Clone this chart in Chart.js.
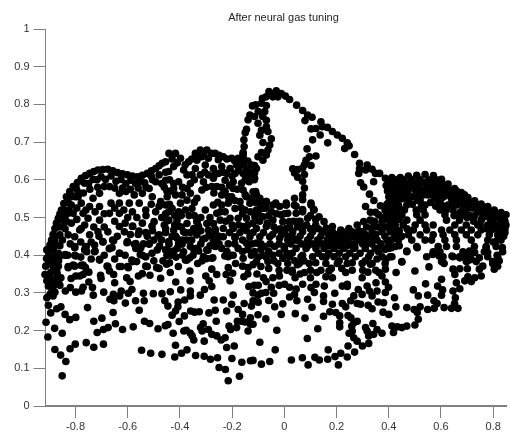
<!DOCTYPE html>
<html>
<head>
<meta charset="utf-8">
<title>After neural gas tuning</title>
<script src="https://cdn.jsdelivr.net/npm/chart.js@4"></script>
<style>
  html, body { margin: 0; padding: 0; background: #fff; }
  canvas { display: block; }
</style>
</head>
<body>
<canvas id="gas-canvas" width="510" height="432"></canvas>
<script>
var chartTitle = 'After neural gas tuning';
var xTickValues = [-0.8, -0.6, -0.4, -0.2, 0, 0.2, 0.4, 0.6, 0.8];
var yTickValues = [0, 0.1, 0.2, 0.3, 0.4, 0.5, 0.6, 0.7, 0.8, 0.9, 1];

// values, grouped by region
var lowerLeft = [[-.851,.080],[-.837,.118],[-.857,.135],[-.879,.150],[-.821,.152],[-.801,.164],[-.759,.168],[-.730,.156],[-.693,.164],[-.906,.183],[-.913,.222],[-.880,.206],[-.851,.193],[-.717,.195],[-.693,.203],[-.675,.208],[-.647,.218],[-.620,.203],[-.579,.210],[-.730,.225],[-.699,.233],[-.799,.235],[-.822,.229],[-.840,.243],[-.895,.247],[-.872,.258],[-.856,.263],[-.754,.261],[-.656,.248],[-.904,.267],[-.547,.148],[-.512,.140],[-.469,.137],[-.420,.130],[-.394,.140],[-.373,.149],[-.417,.161],[-.340,.134],[-.307,.132],[-.283,.124],[-.256,.128],[-.307,.172],[-.250,.102],[-.226,.097],[-.215,.067],[-.172,.079],[-.163,.116],[-.130,.120],[-.201,.126],[-.221,.155],[-.192,.159],[-.536,.225],[-.516,.219],[-.484,.205],[-.456,.213],[-.446,.216],[-.426,.193],[-.403,.224],[-.430,.241],[-.417,.252],[-.408,.263],[-.383,.239],[-.385,.199],[-.376,.201],[-.360,.193],[-.353,.186],[-.347,.175],[-.359,.252],[-.344,.249],[-.326,.250],[-.289,.247],[-.265,.254],[-.261,.225],[-.321,.208],[-.311,.218],[-.315,.199],[-.291,.203],[-.278,.190],[-.259,.186],[-.242,.175],[-.227,.181],[-.212,.212],[-.206,.203],[-.183,.208],[-.180,.225],[-.164,.225],[-.151,.223],[-.139,.199],[-.130,.217],[-.130,.234],[-.160,.243],[-.177,.256],[-.202,.270],[-.221,.252],[-.234,.281],[-.196,.294],[-.154,.272],[-.126,.265],[-.269,.281],[-.322,.294],[-.306,.309],[-.360,.292],[-.360,.305],[-.361,.332],[-.362,.358],[-.397,.308],[-.382,.281],[-.407,.276],[-.416,.329],[-.437,.303],[-.469,.298],[-.446,.265],[-.458,.279],[-.502,.298],[-.540,.299],[-.537,.279],[-.570,.279],[-.556,.254],[-.609,.273],[-.653,.279],[-.631,.292],[-.668,.283],[-.655,.296],[-.625,.305],[-.598,.299],[-.584,.309],[-.650,.327],[-.692,.302],[-.732,.294],[-.735,.314],[-.749,.329],[-.771,.315],[-.777,.305],[-.799,.302],[-.820,.314],[-.839,.305],[-.817,.338],[-.784,.345],[-.799,.345],[-.771,.349],[-.749,.355],[-.828,.367],[-.803,.371],[-.778,.373],[-.762,.367],[-.708,.389],[-.704,.347],[-.702,.338],[-.679,.371],[-.670,.358],[-.654,.349],[-.625,.370],[-.598,.367],[-.604,.340],[-.591,.330],[-.559,.345],[-.544,.351],[-.515,.347],[-.531,.371],[-.489,.367],[-.474,.339],[-.451,.376],[-.437,.354],[-.406,.370],[-.379,.387],[-.362,.393],[-.332,.378],[-.315,.385],[-.297,.391],[-.274,.393],[-.278,.363],[-.259,.349],[-.301,.345],[-.288,.332],[-.278,.317]];

var farLeft = [[-.914,.371],[-.895,.376],[-.917,.349],[-.895,.354],[-.872,.358],[-.910,.332],[-.892,.336],[-.872,.340],[-.856,.340],[-.904,.318],[-.885,.318],[-.879,.302],[-.898,.296],[-.910,.287],[-.886,.292],[-.866,.371],[-.904,.411],[-.879,.402],[-.892,.393],[-.860,.398],[-.840,.402],[-.911,.391],[-.803,.420],[-.799,.398],[-.762,.420],[-.757,.409],[-.725,.411],[-.695,.435],[-.670,.417],[-.654,.438],[-.631,.405],[-.603,.433],[-.575,.429],[-.584,.387],[-.566,.383],[-.552,.402],[-.532,.396],[-.507,.405],[-.518,.429],[-.478,.424],[-.484,.451],[-.442,.429],[-.437,.402],[-.424,.411],[-.392,.429],[-.347,.416],[-.328,.411],[-.293,.413],[-.265,.424],[-.228,.398],[-.206,.400],[-.189,.446],[-.187,.378],[-.215,.367],[-.223,.349],[-.198,.352],[-.208,.332],[-.155,.343],[-.136,.317],[-.160,.371],[-.139,.367],[-.312,.442],[-.288,.455],[-.259,.442],[-.265,.469],[-.329,.477],[-.379,.460],[-.417,.451],[-.455,.460],[-.405,.477],[-.531,.460],[-.581,.477],[-.557,.464],[-.507,.477],[-.335,.491],[-.449,.491],[-.89,.42],[-.90,.38],[-.88,.38],[-.87,.35],[-.865,.33],[-.86,.32],[-.885,.36],[-.90,.345],[-.89,.31],[-.875,.325],[-.865,.385]];

var leftArch = [[-.904,.414],[-.892,.440],[-.879,.471],[-.866,.498],[-.854,.520],[-.835,.555],[-.809,.582],[-.778,.604],[-.746,.617],[-.714,.626],[-.676,.628],[-.639,.619],[-.601,.613],[-.563,.608],[-.525,.617],[-.493,.630],[-.468,.644],[-.822,.564],[-.797,.577],[-.765,.591],[-.733,.601],[-.702,.608],[-.664,.610],[-.626,.601],[-.588,.599],[-.550,.595],[-.816,.533],[-.778,.538],[-.733,.551],[-.708,.564],[-.670,.582],[-.632,.564],[-.607,.569],[-.575,.560],[-.544,.564],[-.518,.577],[-.493,.595],[-.480,.613],[-.809,.511],[-.771,.511],[-.746,.529],[-.708,.529],[-.664,.538],[-.632,.538],[-.594,.538],[-.556,.538],[-.506,.555],[-.474,.542],[-.816,.485],[-.778,.471],[-.752,.498],[-.708,.493],[-.670,.511],[-.632,.511],[-.582,.515],[-.531,.520],[-.493,.515],[-.828,.454],[-.803,.449],[-.784,.467],[-.746,.454],[-.714,.462],[-.676,.462],[-.632,.476],[-.582,.476],[-.544,.485],[-.499,.489],[-.803,.423],[-.759,.423],[-.727,.427],[-.695,.436],[-.658,.440],[-.613,.462],[-.601,.436],[-.569,.431],[-.518,.431],[-.480,.454],[-.803,.400],[-.765,.414],[-.727,.409],[-.670,.418],[-.632,.405],[-.569,.418],[-.544,.400],[-.531,.396],[-.487,.414],[-.841,.400],[-.866,.405],[-.885,.418],[-.879,.396],[-.904,.396],[-.910,.414],[-.708,.387],[-.676,.370],[-.582,.383],[-.525,.370],[-.480,.365],[-.809,.374],[-.828,.370],[-.771,.374],[-.632,.370],[-.601,.370],[-.841,.502],[-.847,.476],[-.860,.454],[-.879,.436],[-.828,.511],[-.790,.555]];

var archFill = [[-.898,.427],[-.886,.455],[-.873,.485],[-.860,.509],[-.845,.537],[-.822,.569],[-.793,.593],[-.762,.611],[-.730,.622],[-.695,.627],[-.657,.624],[-.620,.616],[-.582,.610],[-.544,.612],[-.509,.624],[-.480,.637],[-.842,.520],[-.828,.540],[-.812,.556],[-.790,.567],[-.750,.590],[-.718,.600],[-.685,.601],[-.645,.596],[-.607,.590],[-.570,.590],[-.535,.592],[-.855,.495],[-.862,.475],[-.875,.450],[-.885,.430],[-.835,.490],[-.840,.470],[-.850,.440],[-.860,.425],[-.800,.555],[-.770,.565],[-.745,.575],[-.715,.580],[-.690,.582],[-.650,.578],[-.620,.578],[-.590,.575],[-.560,.578],[-.530,.580],[-.505,.600],[-.510,.610],[-.825,.520],[-.795,.525],[-.760,.520],[-.725,.515],[-.690,.510],[-.650,.525],[-.615,.520],[-.600,.500],[-.565,.500],[-.530,.505],[-.510,.535],[-.480,.530],[-.470,.500],[-.795,.495],[-.765,.480],[-.730,.475],[-.690,.475],[-.650,.490],[-.610,.485],[-.560,.455],[-.525,.450],[-.500,.440],[-.470,.440],[-.460,.480],[-.455,.510],[-.450,.570],[-.470,.590],[-.455,.620],[-.820,.430],[-.780,.435],[-.740,.435],[-.710,.450],[-.660,.420],[-.640,.450],[-.590,.455],[-.540,.430],[-.505,.465],[-.830,.400],[-.780,.395],[-.740,.390],[-.690,.400],[-.650,.390],[-.610,.400],[-.550,.420],[-.500,.385],[-.465,.385],[-.450,.400],[-.440,.380],[-.415,.395],[-.390,.400],[-.350,.400]];

var centreBand = [[-.442,.670],[-.417,.670],[-.398,.657],[-.367,.648],[-.341,.670],[-.322,.679],[-.297,.679],[-.265,.670],[-.234,.661],[-.202,.657],[-.177,.657],[-.158,.670],[-.107,.630],[-.126,.639],[-.145,.630],[-.120,.613],[-.335,.652],[-.316,.661],[-.291,.657],[-.253,.653],[-.341,.630],[-.303,.639],[-.272,.630],[-.240,.635],[-.208,.630],[-.183,.639],[-.158,.639],[-.354,.613],[-.322,.613],[-.291,.613],[-.253,.617],[-.221,.617],[-.189,.617],[-.158,.617],[-.139,.613],[-.455,.648],[-.424,.635],[-.443,.622],[-.386,.626],[-.373,.613],[-.455,.599],[-.424,.590],[-.424,.577],[-.417,.560],[-.310,.595],[-.272,.604],[-.278,.582],[-.316,.573],[-.373,.577],[-.392,.560],[-.360,.564],[-.335,.551],[-.373,.546],[-.259,.582],[-.227,.599],[-.196,.595],[-.164,.591],[-.196,.577],[-.158,.573],[-.240,.560],[-.202,.555],[-.227,.569],[-.120,.568],[-.107,.560],[-.145,.555],[-.170,.542],[-.132,.538],[-.094,.546],[-.069,.542],[-.044,.533],[-.018,.529],[.007,.533],[-.082,.524],[-.107,.520],[-.050,.515],[-.012,.507],[-.151,.520],[-.189,.524],[-.215,.538],[-.240,.533],[-.272,.533],[-.303,.520],[-.398,.538],[-.430,.524],[-.405,.515],[-.379,.520],[-.354,.524],[-.443,.515],[-.455,.533],[-.449,.555],[-.259,.511],[-.227,.515],[-.208,.498],[-.177,.498],[-.145,.498],[-.113,.502],[-.082,.502],[-.044,.493],[-.006,.489],[-.335,.489],[-.373,.484],[-.411,.493],[-.443,.493],[-.297,.484],[-.272,.484],[-.246,.493],[-.234,.471],[-.291,.467],[-.265,.462],[-.196,.471],[-.158,.476],[-.107,.471],[-.069,.476],[-.031,.467],[.007,.471],[-.347,.471],[-.386,.462],[-.424,.467],[-.455,.471],[-.335,.454],[-.373,.440],[-.411,.445],[-.443,.436],[-.303,.445],[-.272,.436],[-.234,.449],[-.189,.449],[-.132,.449],[-.094,.449],[-.056,.449],[-.018,.445],[-.145,.432],[-.107,.432],[-.075,.423],[-.037,.423],[0,.423],[-.177,.418],[-.215,.396],[-.196,.400],[-.240,.418],[-.265,.423],[-.297,.414],[-.335,.418],[-.360,.423],[-.405,.431],[-.436,.409],[-.411,.418],[-.386,.409],[-.455,.414],[-.373,.387],[-.436,.400],[-.310,.396],[-.278,.392],[-.082,.400],[-.044,.400],[-.006,.392],[-.126,.400],[-.158,.392],[-.107,.383],[-.063,.383],[-.025,.378]];

var centreFill = [[-.43,.655],[-.41,.645],[-.38,.64],[-.355,.655],[-.33,.665],[-.31,.67],[-.28,.67],[-.25,.665],[-.22,.655],[-.19,.65],[-.165,.65],[-.14,.65],[-.13,.62],[-.115,.60],[-.135,.595],[-.15,.60],[-.175,.625],[-.20,.61],[-.235,.62],[-.265,.615],[-.305,.62],[-.345,.60],[-.36,.59],[-.30,.58],[-.27,.565],[-.24,.58],[-.21,.585],[-.18,.575],[-.15,.56],[-.125,.55],[-.11,.54],[-.09,.53],[-.07,.525],[-.165,.525],[-.19,.545],[-.215,.555],[-.255,.54],[-.345,.54],[-.39,.58],[-.405,.595],[-.44,.60],[-.46,.58],[-.435,.57],[-.44,.535],[-.42,.505],[-.395,.505],[-.365,.505],[-.345,.505],[-.32,.50],[-.285,.50],[-.245,.515],[-.225,.49],[-.20,.48],[-.175,.48],[-.14,.48],[-.12,.485],[-.095,.49],[-.065,.485],[-.04,.475],[-.015,.47],[-.42,.48],[-.395,.475],[-.36,.46],[-.32,.465],[-.28,.45],[-.25,.45],[-.21,.46],[-.17,.46],[-.145,.465],[-.12,.46],[-.08,.46],[-.045,.455],[-.01,.455],[-.43,.45],[-.39,.44],[-.355,.44],[-.32,.43],[-.285,.425],[-.25,.43],[-.215,.43],[-.19,.43],[-.16,.44],[-.125,.43],[-.09,.43],[-.055,.43],[-.02,.43],[-.22,.41],[-.16,.41],[-.14,.415],[-.115,.41],[-.09,.415],[-.06,.41],[-.02,.405],[.01,.405],[-.10,.395],[-.07,.395],[-.04,.385],[-.12,.375],[-.09,.37],[-.06,.365],[-.02,.36],[.01,.36],[-.14,.35],[-.105,.35],[-.08,.34],[-.115,.32],[-.10,.32],[-.12,.30],[-.10,.275],[-.06,.28],[-.05,.315],[-.02,.32],[.02,.315],[.045,.31],[.06,.35],[.03,.36],[.10,.34],[.10,.36]];

var spire = [[-.155,.706],[-.154,.688],[-.158,.672],[-.158,.661],[-.145,.734],[-.150,.725],[-.139,.759],[-.132,.772],[-.122,.796],[-.059,.834],[-.031,.836],[-.012,.829],[.004,.822],[.020,.813],[.047,.798],[.070,.784],[.089,.772],[.106,.766],[.079,.757],[.102,.735],[.121,.736],[.140,.754],[.146,.741],[.165,.739],[.184,.728],[.203,.719],[.222,.710],[.241,.698],[.248,.690],[.231,.683],[.269,.667],[.137,.719],[.108,.706],[.166,.698],[.087,.682],[.121,.663],[.096,.661],[.083,.652],[.102,.638],[.077,.640],[.070,.631],[.051,.627],[.032,.629],[.039,.618],[.051,.607],[.077,.614],[.070,.596],[.077,.578],[.070,.560],[.070,.547],[.039,.551],[.102,.538],[.112,.522],[.070,.521],[.045,.530],[.007,.538],[-.033,.538],[-.069,.542],[-.094,.551],[-.110,.569],[-.084,.816],[-.070,.820],[-.088,.803],[-.110,.799],[-.069,.797],[-.100,.781],[-.075,.781],[-.114,.768],[-.083,.768],[-.069,.758],[-.101,.750],[-.069,.741],[-.088,.731],[-.063,.728],[-.094,.718],[-.050,.709],[-.082,.699],[-.056,.692],[-.063,.679],[-.088,.672],[-.069,.666],[-.101,.661],[-.082,.652],[-.114,.638],[-.114,.618],[-.114,.604],[-.044,.820],[-.025,.820],[-.040,.829],[.288,.644],[.288,.630],[.285,.617],[.317,.639],[.311,.626],[.336,.628],[.349,.617],[.365,.617],[.292,.592],[.304,.581],[.342,.595],[.326,.562],[.343,.545],[.311,.529],[.330,.514],[.349,.514],[.368,.531],[.393,.535],[.406,.517]];

var centreRight = [[.007,.533],[.038,.533],[.013,.511],[.045,.511],[.070,.515],[.102,.533],[.114,.520],[.133,.502],[.089,.498],[.051,.489],[.019,.489],[.152,.489],[.184,.476],[.216,.467],[.247,.471],[.279,.480],[.304,.489],[.329,.493],[.361,.507],[.386,.520],[.412,.529],[.399,.493],[.374,.489],[.412,.480],[.431,.502],[.424,.462],[0,.462],[.032,.462],[.070,.462],[.108,.462],[.146,.462],[.184,.462],[.222,.462],[.260,.462],[.298,.462],[.336,.462],[.374,.462],[.405,.462],[.013,.440],[.045,.440],[.089,.440],[.127,.440],[.165,.440],[.203,.440],[.241,.440],[.279,.440],[.317,.440],[.355,.440],[.393,.440],[0,.418],[.045,.418],[.083,.418],[.121,.418],[.152,.418],[.190,.418],[.228,.418],[.266,.418],[.310,.418],[.348,.418],[.399,.418],[.019,.396],[.064,.396],[.108,.396],[.146,.396],[.190,.396],[.235,.396],[.272,.396],[.323,.396],[.374,.396],[.405,.396],[.013,.378],[.057,.378],[.095,.378],[.159,.378],[.203,.378],[.241,.378],[.298,.378],[.336,.378],[.386,.378],[.02,.475],[.05,.475],[.085,.48],[.12,.48],[.16,.472],[.20,.455],[.23,.45],[.26,.45],[.295,.45],[.33,.45],[.36,.475],[.39,.475],[.015,.45],[.06,.45],[.10,.45],[.14,.45],[.18,.45],[.22,.452],[.27,.43],[.30,.43],[.335,.43],[.37,.43],[.41,.44],[.025,.43],[.065,.43],[.105,.43],[.145,.43],[.185,.43],[.22,.43],[.255,.43],[.03,.405],[.07,.40],[.13,.405],[.17,.405],[.21,.405],[.25,.405],[.29,.405],[.33,.405],[.36,.41],[.385,.415],[.41,.42],[.16,.395],[.21,.385],[.26,.38],[.31,.385],[.355,.39],[.39,.39],[.04,.385],[.075,.385],[.12,.38],[.18,.365],[.22,.365],[.26,.36],[.30,.36],[.32,.355],[.35,.36],[.14,.36],[.03,.355],[.05,.375]];

var rightDome = [[.387,.604],[.412,.606],[.444,.606],[.475,.610],[.507,.612],[.539,.614],[.571,.611],[.602,.601],[.627,.589],[.652,.577],[.678,.566],[.703,.553],[.729,.544],[.754,.536],[.779,.529],[.804,.520],[.830,.513],[.849,.507],[.425,.600],[.456,.600],[.488,.600],[.520,.600],[.551,.600],[.583,.600],[.615,.583],[.418,.586],[.450,.586],[.482,.586],[.513,.586],[.545,.586],[.577,.586],[.608,.586],[.640,.570],[.431,.573],[.456,.573],[.501,.573],[.539,.573],[.570,.573],[.602,.573],[.634,.573],[.665,.560],[.418,.560],[.444,.560],[.475,.560],[.532,.560],[.570,.560],[.634,.560],[.665,.546],[.697,.540],[.418,.546],[.475,.546],[.520,.546],[.589,.546],[.653,.546],[.684,.546],[.716,.533],[.747,.525],[.779,.515],[.437,.533],[.469,.533],[.539,.533],[.602,.533],[.627,.533],[.659,.533],[.728,.533],[.766,.522],[.798,.510],[.830,.500],[.412,.520],[.532,.520],[.596,.520],[.646,.520],[.697,.520],[.754,.520],[.792,.510],[.836,.490],[.418,.507],[.450,.507],[.507,.507],[.539,.507],[.615,.507],[.665,.507],[.684,.507],[.773,.507],[.804,.500],[.842,.495],[.425,.493],[.469,.493],[.520,.493],[.621,.493],[.671,.493],[.754,.493],[.792,.493],[.830,.493],[.425,.480],[.501,.480],[.539,.480],[.570,.480],[.653,.480],[.697,.480],[.741,.480],[.779,.480],[.817,.480],[.849,.480],[.418,.467],[.494,.467],[.545,.467],[.602,.467],[.634,.467],[.678,.467],[.716,.467],[.754,.467],[.792,.467],[.823,.467],[.425,.454],[.475,.454],[.520,.454],[.570,.454],[.608,.454],[.653,.454],[.697,.454],[.741,.454],[.785,.454],[.817,.454],[.437,.440],[.488,.440],[.539,.440],[.564,.440],[.615,.440],[.659,.440],[.716,.440],[.779,.440],[.817,.440],[.425,.423],[.507,.423],[.589,.423],[.621,.423],[.659,.423],[.728,.423],[.773,.423],[.811,.423],[.469,.409],[.570,.409],[.596,.409],[.684,.409],[.716,.409],[.766,.409],[.836,.409],[.412,.396],[.545,.396],[.608,.396],[.646,.396],[.671,.396],[.709,.396],[.779,.396],[.817,.396],[.450,.383],[.602,.383],[.697,.383],[.735,.383],[.798,.383],[.40,.59],[.435,.59],[.47,.59],[.505,.592],[.535,.592],[.565,.592],[.595,.592],[.40,.575],[.44,.58],[.475,.575],[.52,.575],[.555,.578],[.585,.578],[.62,.578],[.65,.56],[.68,.553],[.70,.54],[.72,.525],[.74,.515],[.76,.51],[.785,.50],[.81,.50],[.84,.505],[.80,.485],[.76,.50],[.73,.505],[.71,.505],[.69,.53],[.67,.535],[.64,.55],[.61,.555],[.59,.56],[.55,.56],[.51,.56],[.49,.555],[.46,.56],[.43,.55],[.40,.555],[.395,.57],[.40,.52],[.43,.515],[.46,.52],[.49,.535],[.505,.52],[.56,.54],[.58,.53],[.62,.52],[.65,.505],[.845,.46],[.83,.44],[.835,.42],[.80,.435],[.84,.475],[.815,.40]];

var ridgeFill = [[.39,.585],[.41,.57],[.43,.565],[.45,.55],[.465,.57],[.49,.58],[.51,.545],[.525,.53],[.55,.575],[.575,.55],[.60,.55],[.625,.56],[.61,.57],[.645,.535],[.675,.515],[.70,.50],[.725,.49],[.75,.48],[.775,.47],[.80,.47],[.84,.45],[.825,.455],[.66,.57],[.69,.56],[.72,.54],[.75,.525],[.775,.52],[.80,.51],[.825,.505],[.845,.49],[.845,.47],[.40,.54],[.42,.53],[.44,.525],[.405,.505],[.44,.495],[.455,.48],[.47,.47],[.39,.505],[.375,.50],[.345,.49],[.315,.475],[.285,.465],[.25,.46],[.215,.45],[.18,.44],[.34,.475],[.375,.475],[.41,.465],[.44,.465],[.35,.455],[.385,.45],[.42,.445],[.45,.45],[.31,.455],[.27,.45],[.235,.44],[.29,.44],[.33,.44],[.37,.425],[.40,.43],[.44,.425],[.31,.425],[.27,.42],[.24,.425],[.21,.425],[.17,.425],[.13,.43],[.09,.425],[.05,.44],[.03,.45],[.13,.47],[.17,.455],[.10,.47],[.07,.475],[.035,.49],[.00,.51],[-.03,.51],[-.06,.505],[-.10,.51],[-.13,.515],[-.16,.51],[.06,.49],[.10,.505],[.12,.495]];

var lowerRight = [[.207,.109],[.194,.131],[.216,.140],[.241,.130],[.269,.143],[.244,.159],[.168,.149],[.166,.124],[.134,.122],[.117,.129],[.091,.109],[.069,.128],[.027,.122],[-.056,.118],[-.088,.111],[-.120,.121],[-.035,.149],[-.094,.169],[-.029,.201],[-.071,.231],[-.012,.243],[.042,.245],[.079,.233],[.128,.205],[.088,.179],[.150,.238],[-.101,.242],[-.120,.217],[-.037,.263],[-.006,.271],[.106,.262],[.048,.279],[.020,.289],[.039,.296],[.089,.283],[-.041,.299],[-.071,.301],[-.088,.299],[-.101,.294],[-.120,.279],[-.070,.330],[-.044,.340],[-.019,.345],[.001,.323],[.041,.340],[.070,.323],[.077,.354],[.124,.354],[.159,.343],[.102,.314],[.121,.323],[.153,.318],[.150,.292],[.150,.277],[.115,.301],[.193,.299],[.222,.318],[.241,.323],[.184,.270],[.222,.272],[.235,.263],[.254,.279],[.279,.272],[.292,.270],[.321,.267],[.336,.258],[.174,.250],[.197,.248],[.212,.239],[.212,.221],[.212,.210],[.244,.240],[.255,.234],[.279,.225],[.266,.221],[.258,.212],[.248,.193],[.260,.199],[.266,.181],[.279,.172],[.299,.159],[.323,.166],[.311,.208],[.317,.199],[.339,.219],[.355,.203],[.323,.186],[.342,.190],[.374,.193],[.378,.249],[.400,.243],[.359,.276],[.380,.274],[.427,.263],[.422,.287],[.469,.261],[.497,.256],[.520,.263],[.549,.256],[.574,.259],[.612,.261],[.640,.259],[.665,.259],[.652,.272],[.585,.272],[.573,.279],[.509,.248],[.513,.230],[.500,.215],[.469,.212],[.450,.208],[.433,.210],[.412,.212],[.418,.195],[.655,.287],[.602,.294],[.606,.308],[.602,.336],[.587,.318],[.549,.294],[.513,.292],[.494,.308],[.541,.324],[.646,.305],[.672,.311],[.659,.327],[.691,.332],[.716,.330],[.754,.345],[.729,.340],[.703,.343],[.653,.349],[.646,.363],[.672,.364],[.701,.364],[.747,.363],[.760,.371],[.804,.363],[.817,.371],[.798,.378],[.823,.385],[.779,.407],[.773,.420],[.716,.389],[.703,.385],[.691,.400],[.729,.407],[.747,.393],[.709,.411],[.672,.393],[.642,.398],[.612,.378],[.593,.398],[.568,.402],[.554,.369],[.500,.358],[.509,.420],[.469,.411],[.450,.382],[.428,.354],[.387,.363],[.351,.327],[.387,.329],[.399,.315],[.387,.301],[.355,.305],[.336,.292],[.317,.318],[.326,.305],[.283,.309],[.298,.296],[.266,.292],[.241,.317],[.330,.376],[.362,.354],[.374,.345],[.298,.340],[.235,.354],[.184,.340],[.171,.358]];

var gasPoints = [].concat(lowerLeft, farLeft, leftArch, archFill, centreBand, centreFill, spire, centreRight, rightDome, ridgeFill, lowerRight)
    .map(function(p) { return { x: p[0], y: p[1] }; });

// title sits a bit right of the plot centre in the original
var titleShift = {
    id: 'titleShift',
    afterLayout: function(chart) {
        chart.titleBlock.left = 57;
    }
};

var ctx = document.getElementById('gas-canvas').getContext('2d');
var gasChart = new Chart(ctx, {
    type: 'scatter',
    data: {
        datasets: [{
            data: gasPoints,
            backgroundColor: '#000',
            borderWidth: 0,
            pointRadius: 3.8,
            clip: false
        }]
    },
    options: {
        responsive: false,
        animation: false,
        layout: { padding: 0 },
        plugins: {
            legend: { display: false },
            tooltip: { enabled: false },
            title: {
                display: true,
                text: chartTitle,
                color: '#222',
                font: { family: 'Liberation Sans', size: 11, weight: 'normal' },
                padding: { top: 11, bottom: 4.8 }
            }
        },
        scales: {
            x: {
                type: 'linear',
                min: -0.915,
                max: 0.849,
                afterBuildTicks: function(axis) {
                    axis.ticks = xTickValues.map(function(v) { return { value: v }; });
                },
                afterFit: function(axis) { axis.height = 26; },
                border: { color: '#808080', width: 2 },
                grid: { drawOnChartArea: false, color: '#808080', tickLength: 12, lineWidth: 1 },
                ticks: {
                    color: '#333',
                    maxRotation: 0,
                    autoSkip: false,
                    padding: 2,
                    font: { family: 'Liberation Sans', size: 11 },
                    callback: function(v) { return String(v); }
                }
            },
            y: {
                type: 'linear',
                min: 0,
                max: 1,
                afterBuildTicks: function(axis) {
                    axis.ticks = yTickValues.map(function(v) { return { value: v }; });
                },
                afterFit: function(axis) { axis.width = 45.5; },
                border: { color: '#808080', width: 1 },
                grid: { drawOnChartArea: false, color: '#808080', tickLength: 12, lineWidth: 1 },
                ticks: {
                    color: '#333',
                    autoSkip: false,
                    padding: 4,
                    font: { family: 'Liberation Sans', size: 11 },
                    callback: function(v) { return String(v); }
                }
            }
        }
    },
    plugins: [titleShift]
});
</script>
</body>
</html>
